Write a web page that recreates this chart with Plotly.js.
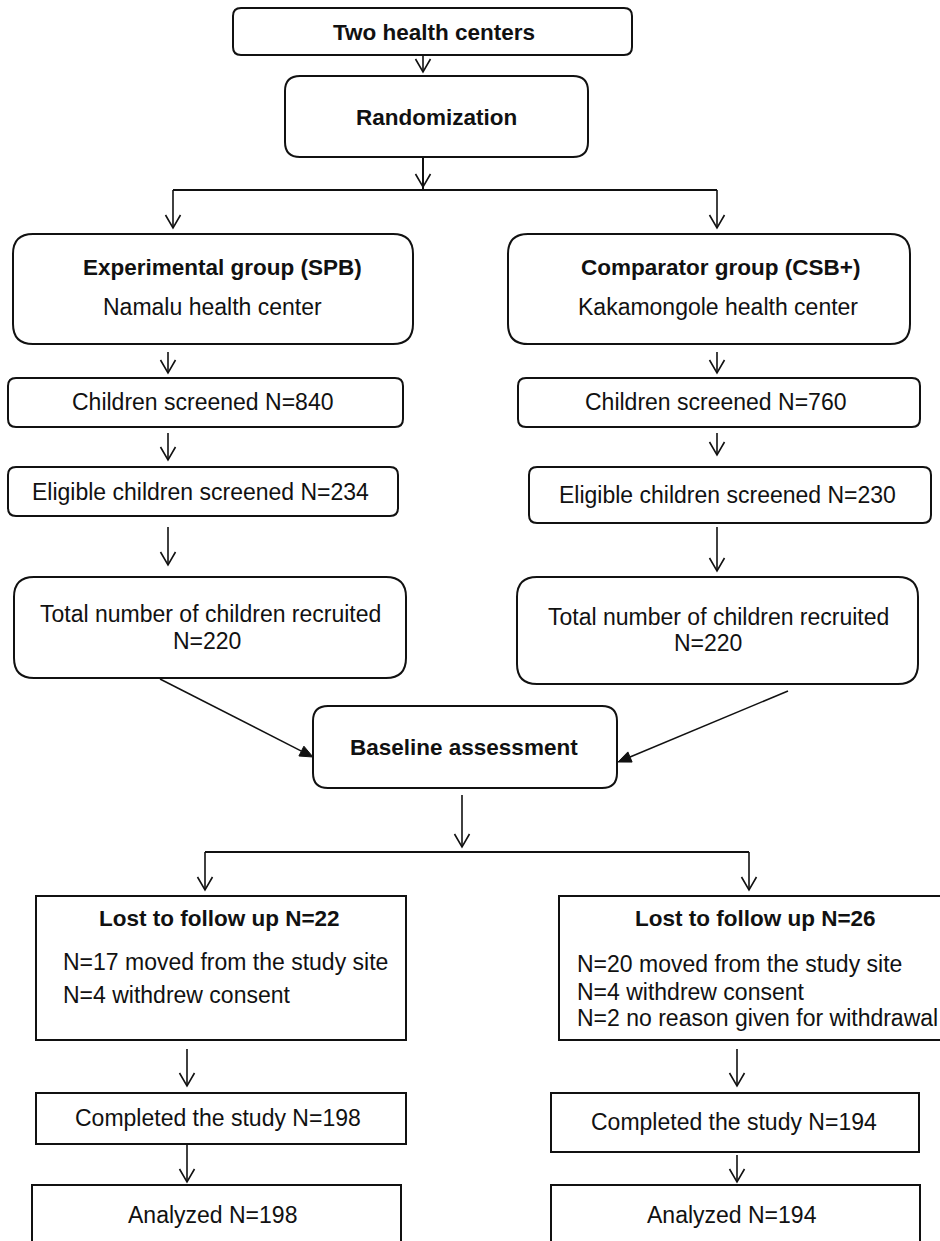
<!DOCTYPE html>
<html>
<head>
<meta charset="utf-8">
<script src="https://cdn.plot.ly/plotly-3.0.1.min.js"></script>
<style>html,body{margin:0;padding:0;background:#fff;}#chart{width:940px;height:1241px;}</style>
</head>
<body>
<div id="chart"></div>
<script>
// ---- data (text content of the flowchart) ----
const topLabels = ["Two health centers", "Randomization"];
const groupNames = ["Experimental group (SPB)", "Comparator group (CSB+)"];
const centerNames = ["Namalu health center", "Kakamongole health center"];
const screenedN = [840, 760];
const eligibleN = [234, 230];
const recruitedN = [220, 220];
const baselineLabel = "Baseline assessment";
const lostN = [22, 26];
const lostReasons = [
  ["N=17 moved from the study site", "N=4 withdrew consent"],
  ["N=20 moved from the study site", "N=4 withdrew consent", "N=2 no reason given for withdrawal"]
];
const completedN = [198, 194];
const analyzedN = [198, 194];

// ---- layout geometry (pixel-like coordinates of the drawing canvas) ----
const FONT = "Liberation Sans, Arial, sans-serif";
const BOLD_SIZE = 22.5, REG_SIZE = 23;
const boxes = [
  {x0:233,y0:8,x1:632,y1:55,r:8},        // two centers
  {x0:285,y0:76,x1:588,y1:157,r:15},     // randomization
  {x0:13,y0:234,x1:413,y1:344,r:20},     // exp group
  {x0:508,y0:234,x1:910,y1:344,r:20},    // comp group
  {x0:8,y0:378,x1:403,y1:427,r:8},       // screened L
  {x0:518,y0:378,x1:920,y1:427,r:8},     // screened R
  {x0:8,y0:467,x1:398,y1:516,r:8},       // eligible L
  {x0:529,y0:467,x1:931,y1:523,r:8},     // eligible R
  {x0:14,y0:577,x1:406,y1:678,r:20},     // recruited L
  {x0:517,y0:577,x1:918,y1:684,r:20},    // recruited R
  {x0:313,y0:706,x1:617,y1:788,r:15},    // baseline
  {x0:36,y0:896,x1:406,y1:1040,r:0},     // lost L
  {x0:559,y0:896,x1:944,y1:1040,r:0},    // lost R
  {x0:36,y0:1093,x1:406,y1:1144,r:0},    // completed L
  {x0:551,y0:1093,x1:919,y1:1152,r:0},   // completed R
  {x0:32,y0:1185,x1:401,y1:1260,r:0},    // analyzed L
  {x0:551,y0:1185,x1:920,y1:1260,r:0}    // analyzed R
];
// plain connector lines
const lines = [
  [[423,157],[423,190]],
  [[173,190],[717,190]],
  [[462,852],[462,852]],
  [[205,852],[749,852]]
];
// arrows: [start, end, headType]
const arrows = [
  [[423,55],[423,72],'open'],
  [[423,157],[423,187],'open'],
  [[173,190],[173,228],'open'],
  [[717,190],[717,228],'open'],
  [[168,352],[168,373],'open'],
  [[717,352],[717,373],'open'],
  [[168,433],[168,460],'open'],
  [[717,433],[717,455],'open'],
  [[168,527],[168,565],'open'],
  [[717,527],[717,571],'open'],
  [[160,679],[313,757],'filled'],
  [[788,691],[618,762],'filled'],
  [[462,795],[462,847],'open'],
  [[205,852],[205,890],'open'],
  [[749,852],[749,890],'open'],
  [[187,1049],[187,1086],'open'],
  [[737,1049],[737,1086],'open'],
  [[187,1144],[187,1182],'open'],
  [[737,1155],[737,1182],'open']
];

// text placements built from the data arrays
const texts = [];
function T(text, x, y, bold, anchor){ texts.push({text, x, y, bold:!!bold, anchor:anchor||'center'}); }
T(topLabels[0], 434, 32, true);
T(topLabels[1], 436, 117, true);
const colText = [
  {grp:222, ctr:212, scr:202, eli:200, rec1:210, rec2:207},
  {grp:720, ctr:718, scr:715, eli:727, rec1:718, rec2:708}
];
const recY = [[614,641],[617,643]];
const eliY = [492, 495];
for (let i=0;i<2;i++){
  const c = colText[i];
  T(groupNames[i], c.grp, 267, true);
  T(centerNames[i], c.ctr, 307);
  T("Children screened N=" + screenedN[i], c.scr, 402);
  T("Eligible children screened N=" + eligibleN[i], c.eli, eliY[i]);
  T("Total number of children recruited", c.rec1, recY[i][0]);
  T("N=" + recruitedN[i], c.rec2, recY[i][1]);
}
T(baselineLabel, 464, 747, true);
const lostX = [219, 755];
const reasonX = [61, 575];
const reasonY = [[962, 995], [964, 992, 1018]];
const compPos = [[218,1118],[734,1122]];
const anaPos = [[212,1215],[732,1215]];
for (let i=0;i<2;i++){
  T("Lost to follow up N=" + lostN[i], lostX[i], 918, true);
  lostReasons[i].forEach((r,j)=>T(r, reasonX[i], reasonY[i][j], false, 'left'));
  T("Completed the study N=" + completedN[i], compPos[i][0], compPos[i][1]);
  T("Analyzed N=" + analyzedN[i], anaPos[i][0], anaPos[i][1]);
}

// ---- build shapes ----
function rrect(b){
  const {x0,y0,x1,y1,r} = b;
  if (!r) return `M${x0},${y0}H${x1}V${y1}H${x0}Z`;
  return `M${x0+r},${y0}H${x1-r}Q${x1},${y0} ${x1},${y0+r}V${y1-r}Q${x1},${y1} ${x1-r},${y1}H${x0+r}Q${x0},${y1} ${x0},${y1-r}V${y0+r}Q${x0},${y0} ${x0+r},${y0}Z`;
}
const shapes = [];
boxes.forEach(b => shapes.push({type:'path', xref:'x', yref:'y', path:rrect(b),
  line:{color:'#111', width:2}, fillcolor:'rgba(0,0,0,0)'}));
lines.forEach(l => shapes.push({type:'line', xref:'x', yref:'y', x0:l[0][0], y0:l[0][1], x1:l[1][0], y1:l[1][1],
  line:{color:'#111', width:2}}));
arrows.forEach(a => {
  const [s, e, kind] = a;
  const dx = e[0]-s[0], dy = e[1]-s[1];
  const len = Math.hypot(dx, dy);
  const ux = dx/len, uy = dy/len, nx = -uy, ny = ux;
  if (kind === 'open'){
    const L = 13, W = 7.5;
    shapes.push({type:'line', xref:'x', yref:'y', x0:s[0], y0:s[1], x1:e[0], y1:e[1], line:{color:'#111', width:1.6}});
    const p1 = [e[0]-ux*L+nx*W, e[1]-uy*L+ny*W];
    const p2 = [e[0]-ux*L-nx*W, e[1]-uy*L-ny*W];
    shapes.push({type:'path', xref:'x', yref:'y', path:`M${p1[0]},${p1[1]}L${e[0]},${e[1]}L${p2[0]},${p2[1]}`,
      line:{color:'#111', width:1.6}});
  } else {
    const L = 13, W = 5.5;
    const b = [e[0]-ux*L, e[1]-uy*L];
    shapes.push({type:'line', xref:'x', yref:'y', x0:s[0], y0:s[1], x1:b[0], y1:b[1], line:{color:'#111', width:1.5}});
    const p1 = [b[0]+nx*W, b[1]+ny*W];
    const p2 = [b[0]-nx*W, b[1]-ny*W];
    shapes.push({type:'path', xref:'x', yref:'y', path:`M${p1[0]},${p1[1]}L${e[0]},${e[1]}L${p2[0]},${p2[1]}Z`,
      line:{color:'#111', width:1}, fillcolor:'#111'});
  }
});

const annotations = texts.map(t => ({
  xref:'x', yref:'y', x:t.x, y:t.y, showarrow:false,
  text: t.bold ? '<b>'+t.text+'</b>' : t.text,
  xanchor:t.anchor, yanchor:'middle',
  font:{family:FONT, size: t.bold ? BOLD_SIZE : REG_SIZE, color:'#111'}
}));

const layout = {
  width:940, height:1241,
  margin:{l:0, r:0, t:0, b:0, pad:0},
  paper_bgcolor:'#fff', plot_bgcolor:'#fff',
  xaxis:{range:[0,940], visible:false, fixedrange:true},
  yaxis:{range:[1241,0], visible:false, fixedrange:true},
  showlegend:false,
  shapes, annotations
};
Plotly.newPlot('chart', [{x:[], y:[], type:'scatter', mode:'markers', hoverinfo:'skip'}], layout, {staticPlot:true, displayModeBar:false});
</script>
</body>
</html>
